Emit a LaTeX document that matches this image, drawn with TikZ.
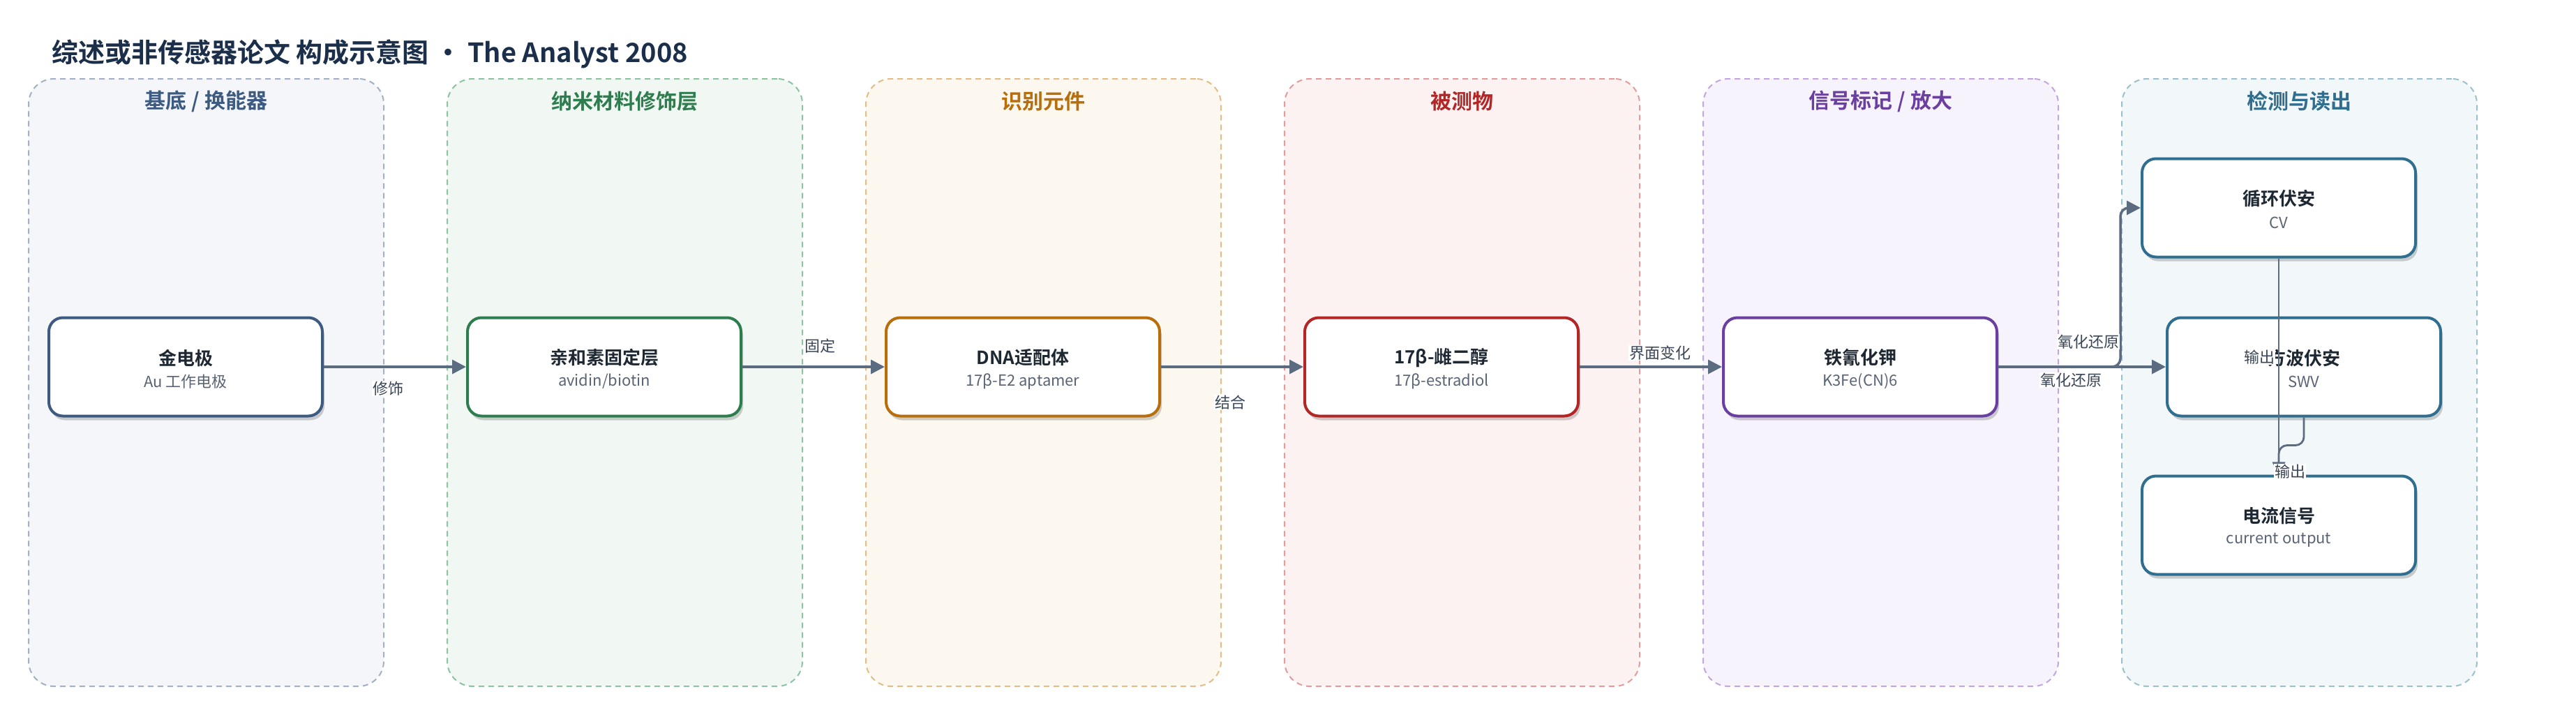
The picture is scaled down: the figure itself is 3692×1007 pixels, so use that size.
\documentclass[tikz,border=0pt]{standalone}
\usepackage{fontspec}
\setmainfont{Noto Sans CJK SC}[BoldFont={Noto Sans CJK SC Bold}]
\usetikzlibrary{arrows.meta,shadows,calc}
\definecolor{titlec}{HTML}{1B2F4B}
\definecolor{ttlc}{HTML}{1E2833}
\definecolor{subc}{HTML}{5A6475}
\definecolor{lblc}{HTML}{3A4556}
\definecolor{arrc}{HTML}{5B6B80}
\definecolor{hA}{HTML}{3D5A80}\definecolor{fA}{HTML}{F4F6FA}\definecolor{dA}{HTML}{A3B1C6}
\definecolor{hB}{HTML}{2E7D4F}\definecolor{fB}{HTML}{F1F8F3}\definecolor{dB}{HTML}{8DC3A0}
\definecolor{hC}{HTML}{B86E0B}\definecolor{fC}{HTML}{FDF8EF}\definecolor{dC}{HTML}{E2BD85}
\definecolor{hD}{HTML}{B32626}\definecolor{fD}{HTML}{FDF2F2}\definecolor{dD}{HTML}{E39C9C}
\definecolor{hE}{HTML}{6A3FA0}\definecolor{fE}{HTML}{F7F3FC}\definecolor{dE}{HTML}{C3A6DF}
\definecolor{hF}{HTML}{2F6E8E}\definecolor{fF}{HTML}{F2F7F9}\definecolor{dF}{HTML}{9CC1CD}
\tikzset{
  panel/.style 2 args={draw=#1, fill=#2, line width=2pt, dash pattern=on 8pt off 6pt,
    rounded corners=36pt, minimum width=509pt, minimum height=871pt, inner sep=0pt},
  hdr/.style={font=\bfseries\fontsize{30}{34}\selectfont, text=#1},
  box/.style={draw=#1, fill=white, line width=4pt, rounded corners=20pt,
    minimum width=392pt, minimum height=141pt, inner sep=0pt,
    drop shadow={shadow xshift=3pt, shadow yshift=-6pt, opacity=0.18, fill=black}},
  ttl/.style={font=\bfseries\fontsize{26}{30}\selectfont, text=ttlc, inner sep=0pt},
  subt/.style={font=\fontsize{22}{26}\selectfont, text=subc, inner sep=0pt},
  lbl/.style={font=\fontsize{22}{26}\selectfont, text=lblc, fill=white, inner sep=1pt},
  arr/.style={draw=arrc, line width=3.5pt, -{Triangle[length=20pt,width=20pt]}},
  arrthin/.style={draw=arrc, line width=2.8pt, rounded corners=12pt, -{Triangle[length=18pt,width=18pt]}}
}
\begin{document}
\begin{tikzpicture}[x=1pt,y=-1pt]
\useasboundingbox (0,0) rectangle (3692,1007);
\fill[white] (0,0) rectangle (3692,1007);

\node[anchor=west, font=\bfseries\fontsize{38}{44}\selectfont, text=titlec, inner sep=0pt] (title) at (74,77)
  {综述或非传感器论文 构成示意图 • The Analyst 2008};

% panels
\node[panel={dA}{fA}] (p1) at (295.5,548.5) {};
\node[panel={dB}{fB}] (p2) at (895.5,548.5) {};
\node[panel={dC}{fC}] (p3) at (1495.5,548.5) {};
\node[panel={dD}{fD}] (p4) at (2095.5,548.5) {};
\node[panel={dE}{fE}] (p5) at (2695.5,548.5) {};
\node[panel={dF}{fF}] (p6) at (3295.5,548.5) {};

\node[hdr=hA] (h1) at (295.5,145) {基底 / 换能器};
\node[hdr=hB] (h2) at (895.5,145) {纳米材料修饰层};
\node[hdr=hC] (h3) at (1495.5,145) {识别元件};
\node[hdr=hD] (h4) at (2095.5,145) {被测物};
\node[hdr=hE] (h5) at (2695.5,145) {信号标记 / 放大};
\node[hdr=hF] (h6) at (3295.5,145) {检测与读出};

% boxes
\node[box=hA] (b1) at (266,526) {};
\node[box=hB] (b2) at (866,526) {};
\node[box=hC] (b3) at (1466,526) {};
\node[box=hD] (b4) at (2066,526) {};
\node[box=hE] (b5) at (2666,526) {};
\node[box=hF] (cv) at (3266,298) {};
\node[box=hF] (swv) at (3302,526) {};
\node[box=hF] (cur) at (3266,753) {};

\node[ttl] (b1t) at ([yshift=13pt]b1.center) {金电极};
\node[subt] (b1s) at ([yshift=-21pt]b1.center) {Au 工作电极};
\node[ttl] (b2t) at ([yshift=13pt]b2.center) {亲和素固定层};
\node[subt] (b2s) at ([yshift=-21pt]b2.center) {avidin/biotin};
\node[ttl] (b3t) at ([yshift=13pt]b3.center) {DNA适配体};
\node[subt] (b3s) at ([yshift=-21pt]b3.center) {17β-E2 aptamer};
\node[ttl] (b4t) at ([yshift=13pt]b4.center) {17β-雌二醇};
\node[subt] (b4s) at ([yshift=-21pt]b4.center) {17β-estradiol};
\node[ttl] (b5t) at ([yshift=13pt]b5.center) {铁氰化钾};
\node[subt] (b5s) at ([yshift=-21pt]b5.center) {K3Fe(CN)6};
\node[ttl] (cvt) at ([yshift=13pt]cv.center) {循环伏安};
\node[subt] (cvs) at ([yshift=-21pt]cv.center) {CV};
\node[ttl] (swvt) at ([yshift=13pt]swv.center) {方波伏安};
\node[subt] (swvs) at ([yshift=-21pt]swv.center) {SWV};
\node[ttl] (curt) at ([yshift=13pt]cur.center) {电流信号};
\node[subt] (curs) at ([yshift=-21pt]cur.center) {current output};

% connectors
\draw[arr] (b1) -- (b2);
\draw[arr] (b2) -- (b3);
\draw[arr] (b3) -- (b4);
\draw[arr] (b4) -- (b5);
\coordinate (bend) at ($(cv.west)+(-29,0)$);
\draw[arr, rounded corners=12pt] (b5.east) -- (bend |- b5.east) |- (cv.west);
\draw[arr] (b5.east) -- (swv.west);
\draw[arrthin] (cv.south) -- (cur.north);
\draw[arrthin] (swv.south) -- ++(0,40) -| (cur.north);

% labels
\node[lbl] (l1) at (556,557) {修饰};
\node[lbl] (l2) at (1175,496) {固定};
\node[lbl] (l3) at (1763,577) {结合};
\node[lbl] (l4) at (2379,506) {界面变化};
\node[lbl] (l5) at (2993,490) {氧化还原};
\node[lbl] (l6) at (2968,545) {氧化还原};
\node[lbl] (l7) at (3238,512) {输出};
\node[lbl] (l8) at (3282,676) {输出};
\end{tikzpicture}
\end{document}
